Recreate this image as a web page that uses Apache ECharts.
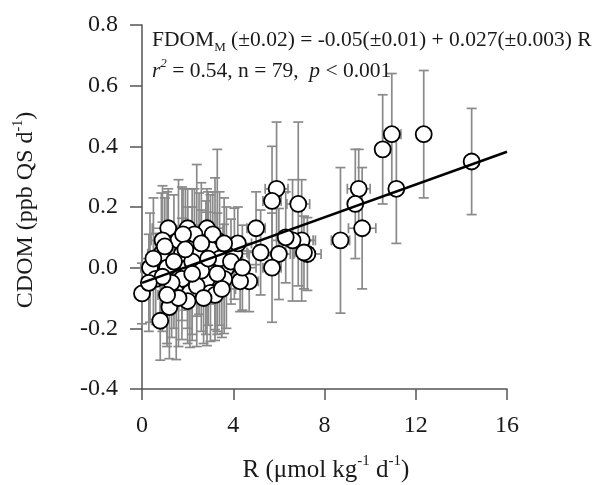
<!DOCTYPE html>
<html><head><meta charset="utf-8">
<script src="https://cdn.jsdelivr.net/npm/echarts@6/dist/echarts.min.js"></script>
<style>html,body{margin:0;padding:0;background:#fff}#c{width:598px;height:485px}</style>
</head><body><div id="c"></div>
<script>
// Respiration rate R (µmol kg-1 d-1)
const R = [
  14.45, 12.35, 10.95, 10.55, 11.15, 9.5, 9.35, 9.65, 8.7, 7.25, 7.0, 6.85, 5.9, 5.7, 5.0, 6.0, 5.7, 6.6, 4.7, 4.3, 7.1, 5.2, 6.3,
  1.15, 2.0, 2.85, 1.6, 2.4, 3.3, 0.9, 0.85, 1.75, 2.5, 4.05, 3.2, 0.35, 1.1, 2.0, 2.8, 3.7, 1.75, 2.85, 3.6, 0.6, 0.0, 1.5, 2.1, 3.0, 3.2, 1.2, 0.8,
  1.4, 2.2, 2.6, 3.0, 3.4, 1.0, 0.5, 2.3, 1.8, 3.1, 2.6, 1.3, 2.4, 3.5, 0.9, 2.0, 1.6, 2.7, 3.9, 4.2, 0.3, 1.9, 2.2, 3.3, 1.1, 2.9, 3.6, 4.4
];
// CDOM production (ppb QS d-1)
const CDOM = [
  0.35, 0.44, 0.44, 0.39, 0.26, 0.26, 0.21, 0.13, 0.09, 0.045, 0.09, 0.21, 0.26, 0.22, 0.13, 0.045, 0.0, 0.09, -0.045, -0.045, 0.05, 0.05, 0.10,
  0.13, 0.13, 0.13, 0.09, 0.09, 0.09, 0.09, 0.046, 0.046, 0.046, 0.046, 0.046, 0.0, 0.0, 0.0, 0.0, 0.0, -0.037, -0.037, -0.037, -0.037, -0.085, -0.083, -0.083, -0.083, -0.09, -0.13, -0.175,
  0.02, 0.02, -0.01, 0.06, 0.03, 0.07, 0.03, 0.11, 0.11, 0.11, 0.08, -0.05, -0.06, -0.07, -0.03, -0.11, -0.10, -0.10, 0.02, 0.08, -0.05, 0.06, -0.02, -0.02, -0.09, 0.03, 0.08, 0.0
];
// horizontal error (R)
const R_err = [
  0.3, 0.3, 0.4, 0.3, 0.3, 0.5, 0.3, 0.6, 0.4, 0.6, 0.6, 0.5, 0.5, 0.4, 0.4, 0.5, 0.4, 0.9, 0.4, 0.5, 0.4, 0.6, 0.4,
  0.7, 0.6, 0.7, 0.8, 0.6, 0.9, 0.5, 0.6, 0.7, 0.5, 0.6, 0.8, 0.4, 0.6, 0.7, 0.5, 0.7, 0.5, 0.6, 0.5, 0.4, 0.3, 0.6, 0.7, 0.6, 0.4, 0.4, 0.3,
  0.5, 0.6, 0.7, 0.5, 0.8, 0.4, 0.5, 0.6, 0.7, 0.5, 0.6, 0.5, 0.7, 0.6, 0.4, 0.6, 0.5, 0.7, 0.5, 0.6, 0.3, 0.6, 0.5, 0.7, 0.4, 0.6, 0.5, 0.6
];
// vertical error (CDOM)
const CDOM_err = [
  0.175, 0.21, 0.20, 0.18, 0.18, 0.13, 0.18, 0.20, 0.24, 0.12, 0.20, 0.27, 0.22, 0.18, 0.12, 0.15, 0.18, 0.20, 0.10, 0.10, 0.12, 0.14, 0.15,
  0.13, 0.13, 0.13, 0.20, 0.25, 0.30, 0.18, 0.20, 0.22, 0.20, 0.15, 0.25, 0.18, 0.25, 0.20, 0.22, 0.20, 0.20, 0.22, 0.18, 0.15, 0.10, 0.22, 0.18, 0.16, 0.15, 0.17, 0.13,
  0.22, 0.24, 0.20, 0.18, 0.22, 0.16, 0.20, 0.15, 0.15, 0.14, 0.20, 0.18, 0.20, 0.16, 0.18, 0.14, 0.16, 0.15, 0.14, 0.12, 0.16, 0.20, 0.22, 0.20, 0.17, 0.22, 0.15, 0.14
];
const xTicks = [0, 4, 8, 12, 16];
const yTicks = [-0.4, -0.2, 0.0, 0.2, 0.4, 0.6, 0.8];
// regression: FDOM = -0.05 + 0.027 R
const fitIntercept = -0.05;
const fitSlope = 0.027;
const fitRange = [0, 16];

const FONT = 'Liberation Serif';
const TXT = '#1a1a1a';
const AX = '#555';

const pts = R.map((r, i) => [r, CDOM[i], R_err[i], CDOM_err[i]]);
const fitLine = fitRange.map(x => [x, fitIntercept + fitSlope * x]);

const chart = echarts.init(document.getElementById('c'), null, {renderer: 'canvas'});
chart.setOption({
  animation: false,
  backgroundColor: '#fff',
  grid: {left: 142, right: 91, top: 25, bottom: 96},
  xAxis: {
    type: 'value', min: xTicks[0], max: xTicks[xTicks.length - 1], interval: 4,
    axisLine: {show: true, onZero: false, lineStyle: {color: AX, width: 1.5}},
    axisTick: {show: true, inside: false, length: 11, lineStyle: {color: AX, width: 1.5}},
    axisLabel: {margin: 25, color: TXT, fontFamily: FONT, fontSize: 24},
    splitLine: {show: false}
  },
  yAxis: {
    type: 'value', min: yTicks[0], max: yTicks[yTicks.length - 1], interval: 0.2,
    axisLine: {show: true, onZero: false, lineStyle: {color: AX, width: 1.5}},
    axisTick: {show: true, inside: false, length: 12, lineStyle: {color: AX, width: 1.5}},
    axisLabel: {margin: 24, color: TXT, fontFamily: FONT, fontSize: 24, formatter: v => v.toFixed(1)},
    splitLine: {show: false}
  },
  series: [
    {
      type: 'custom', z: 1, clip: false,
      data: pts,
      encode: {x: 0, y: 1},
      renderItem: function (params, api) {
        const x = api.value(0), y = api.value(1), xe = api.value(2), ye = api.value(3);
        const a = api.coord([x, y - ye]), b = api.coord([x, y + ye]);
        const c = api.coord([x - xe, y]), d = api.coord([x + xe, y]);
        const cap = 5;
        const st = {stroke: '#8a8a8a', lineWidth: 1.7};
        return {type: 'group', children: [
          {type: 'line', shape: {x1: a[0], y1: a[1], x2: b[0], y2: b[1]}, style: st},
          {type: 'line', shape: {x1: a[0] - cap, y1: a[1], x2: a[0] + cap, y2: a[1]}, style: st},
          {type: 'line', shape: {x1: b[0] - cap, y1: b[1], x2: b[0] + cap, y2: b[1]}, style: st},
          {type: 'line', shape: {x1: c[0], y1: c[1], x2: d[0], y2: d[1]}, style: st},
          {type: 'line', shape: {x1: c[0], y1: c[1] - cap, x2: c[0], y2: c[1] + cap}, style: st},
          {type: 'line', shape: {x1: d[0], y1: d[1] - cap, x2: d[0], y2: d[1] + cap}, style: st}
        ]};
      }
    },
    {
      type: 'scatter', z: 2,
      data: pts.map(p => [p[0], p[1]]),
      symbol: 'circle', symbolSize: 16,
      itemStyle: {color: '#fff', borderColor: '#000', borderWidth: 1.8, opacity: 1}
    },
    {
      type: 'line', z: 3,
      data: fitLine, symbol: 'none',
      lineStyle: {color: '#000', width: 2.5}
    }
  ],
  graphic: [
    {
      type: 'text', x: 152, y: 40, z: 10,
      style: {
        text: 'FDOM{sub|M} (±0.02) = -0.05(±0.01) + 0.027(±0.003) R',
        fill: TXT, fontFamily: FONT, fontSize: 21.5, align: 'left', verticalAlign: 'middle',
        lineHeight: 28,
        rich: {sub: {fontFamily: FONT, fontSize: 13, fill: TXT, verticalAlign: 'bottom', lineHeight: 28}}
      }
    },
    {
      type: 'text', x: 152, y: 71, z: 10,
      style: {
        text: '{i|r}{sup|2} = 0.54, n = 79,  {i|p} < 0.001',
        fill: TXT, fontFamily: FONT, fontSize: 21.5, align: 'left', verticalAlign: 'middle',
        lineHeight: 28,
        rich: {
          i: {fontFamily: FONT, fontSize: 21.5, fontStyle: 'italic', fill: TXT},
          sup: {fontFamily: FONT, fontSize: 13, fontStyle: 'italic', fill: TXT, verticalAlign: 'top', lineHeight: 28}
        }
      }
    },
    {
      type: 'text', x: 326, y: 470, z: 10,
      style: {
        text: 'R (μmol kg{sup|-1} d{sup|-1})',
        fill: TXT, fontFamily: FONT, fontSize: 25, align: 'center', verticalAlign: 'middle',
        lineHeight: 32,
        rich: {sup: {fontFamily: FONT, fontSize: 15, fill: TXT, verticalAlign: 'top', lineHeight: 32}}
      }
    },
    {
      type: 'text', x: 26, y: 210, rotation: Math.PI / 2, z: 10,
      style: {
        text: 'CDOM (ppb QS d{sup|-1})',
        fill: TXT, fontFamily: FONT, fontSize: 24, align: 'center', verticalAlign: 'middle',
        lineHeight: 30,
        rich: {sup: {fontFamily: FONT, fontSize: 14, fill: TXT, verticalAlign: 'top', lineHeight: 30}}
      }
    }
  ]
});
</script>
</body></html>
